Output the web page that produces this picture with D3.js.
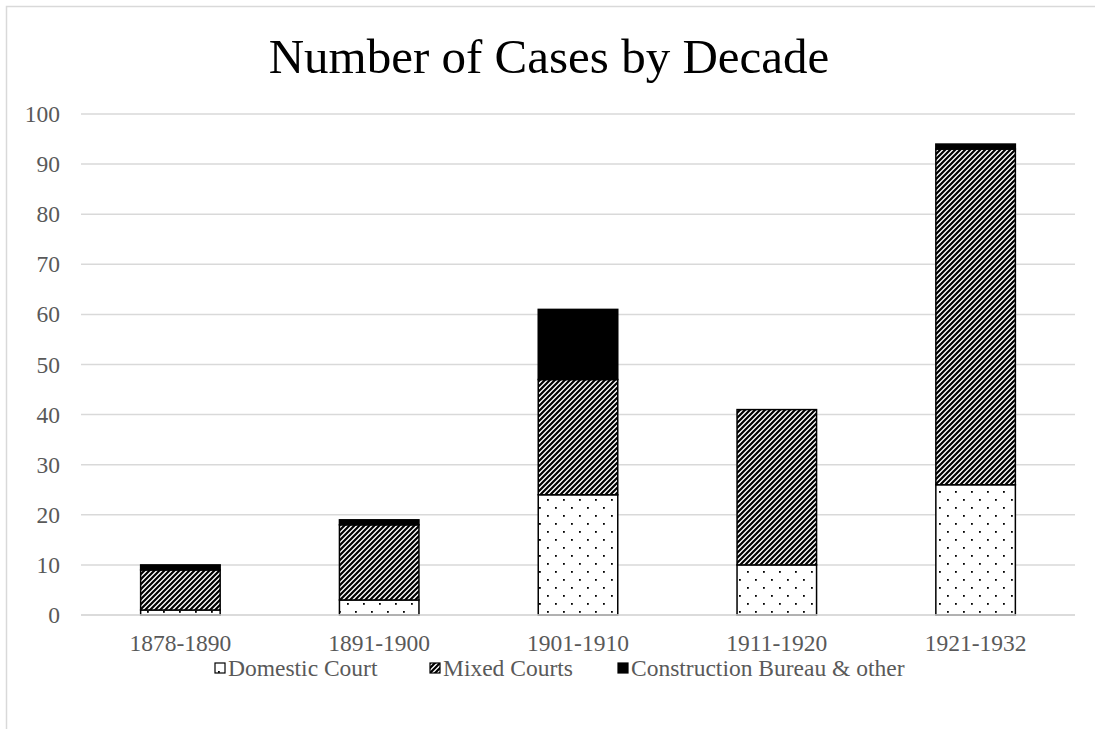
<!DOCTYPE html>
<html>
<head>
<meta charset="utf-8">
<script src="https://cdn.jsdelivr.net/npm/d3@7"></script>
<style>
  body { margin: 0; background: #fff; }
  text { font-family: "Liberation Serif", "Times New Roman", serif; }
</style>
</head>
<body>
<svg id="chart" width="1095" height="729"></svg>
<script>
// data
const decades = ['1878-1890', '1891-1900', '1901-1910', '1911-1920', '1921-1932']
const domestic = [1, 3, 24, 10, 26]
const mixed = [8, 15, 23, 31, 67]
const construction = [1, 1, 14, 0, 1]
const seriesNames = ['Domestic Court', 'Mixed Courts', 'Construction Bureau & other']
const yTicks = [0, 10, 20, 30, 40, 50, 60, 70, 80, 90, 100]

const svg = d3.select('#chart')
const m = { left: 81, right: 20, top: 114, bottom: 114 }

// patterns
const defs = svg.append('defs')
const dots = defs.append('pattern')
  .attr('id', 'dots').attr('patternUnits', 'userSpaceOnUse')
  .attr('width', 16).attr('height', 16)
dots.append('rect').attr('width', 16).attr('height', 16).attr('fill', '#fff')
dots.append('rect').attr('x', 3).attr('y', 3).attr('width', 1.8).attr('height', 1.8).attr('fill', '#000')
dots.append('rect').attr('x', 11).attr('y', 11).attr('width', 1.8).attr('height', 1.8).attr('fill', '#000')

const hatch = defs.append('pattern')
  .attr('id', 'hatch').attr('patternUnits', 'userSpaceOnUse')
  .attr('width', 5).attr('height', 5)
hatch.append('rect').attr('width', 5).attr('height', 5).attr('fill', '#fff')
hatch.append('path')
  .attr('d', 'M-1,6 L6,-1 M-1,1 L1,-1 M4,6 L6,4')
  .attr('stroke', '#000').attr('stroke-width', 2.2)

const fills = ['url(#dots)', 'url(#hatch)', '#000']

// outer frame
svg.append('rect')
  .attr('x', 6.5).attr('y', 6.5).attr('width', 1200).attr('height', 1200)
  .attr('fill', '#fff').attr('stroke', '#d9d9d9').attr('stroke-width', 1.5)

svg.append('text')
  .attr('x', 549).attr('y', 73)
  .attr('text-anchor', 'middle')
  .attr('font-size', 49)
  .attr('fill', '#000')
  .text('Number of Cases by Decade')

const x = d3.scaleBand().domain(decades).range([m.left, 1075]).paddingInner(0.6).paddingOuter(0.3)
const y = d3.scaleLinear().domain([0, 100]).range([615, 114])

// grid
svg.append('g').selectAll('line').data(yTicks).join('line')
  .attr('x1', m.left).attr('x2', 1075)
  .attr('y1', d => y(d)).attr('y2', d => y(d))
  .attr('stroke', '#d9d9d9').attr('stroke-width', 1.5)

const yAxis = svg.append('g').attr('transform', `translate(${m.left},0)`)
  .call(d3.axisLeft(y).tickValues(yTicks).tickSize(0).tickPadding(21))
yAxis.select('.domain').remove()
yAxis.selectAll('text').attr('font-size', 23.5).attr('fill', '#595959')
  .attr('font-family', '"Liberation Serif", serif')

const xAxis = svg.append('g').attr('transform', 'translate(0,615)')
  .call(d3.axisBottom(x).tickSize(0).tickPadding(19))
xAxis.select('.domain').remove()
xAxis.selectAll('text').attr('font-size', 23.5).attr('fill', '#595959')
  .attr('font-family', '"Liberation Serif", serif')

// stacked bars
const rows = decades.map((d, i) => ({ decade: d, s0: domestic[i], s1: mixed[i], s2: construction[i] }))
const stack = d3.stack().keys(['s0', 's1', 's2'])(rows)

svg.append('g').selectAll('g').data(stack).join('g')
  .attr('fill', (d, i) => fills[i])
  .selectAll('rect').data(d => d.filter(p => p[1] > p[0])).join('rect')
  .attr('x', d => x(d.data.decade))
  .attr('width', x.bandwidth())
  .attr('y', d => y(d[1]))
  .attr('height', d => y(d[0]) - y(d[1]))
  .attr('stroke', '#000').attr('stroke-width', 1.5)

// baseline over bars
svg.append('line')
  .attr('x1', m.left).attr('x2', 1075).attr('y1', y(0)).attr('y2', y(0))
  .attr('stroke', '#d9d9d9').attr('stroke-width', 1.5)

// legend
const legX = [215, 430, 618]
const leg = svg.append('g').selectAll('g').data(seriesNames).join('g')
  .attr('transform', (d, i) => `translate(${legX[i]},668)`)
leg.append('rect')
  .attr('x', 0).attr('y', -5).attr('width', 10).attr('height', 10)
  .attr('fill', (d, i) => fills[i]).attr('stroke', '#000').attr('stroke-width', 1.2)
leg.append('text')
  .attr('x', 13).attr('y', 8)
  .attr('font-size', 23.5).attr('fill', '#595959')
  .text(d => d)
</script>
</body>
</html>
